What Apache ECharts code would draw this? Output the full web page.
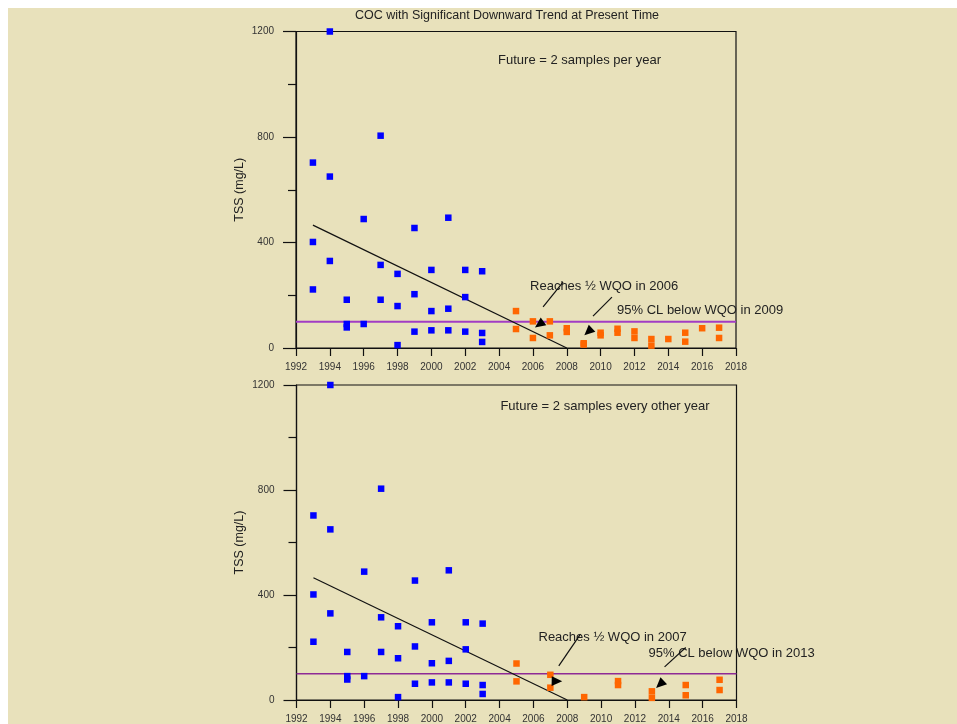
<!DOCTYPE html>
<html>
<head>
<meta charset="utf-8">
<script src="https://cdn.jsdelivr.net/npm/echarts@6/dist/echarts.min.js"></script>
<style>
html,body{margin:0;padding:0;background:#ffffff;}
#bg{position:absolute;left:8px;top:8px;right:0;bottom:0;width:949px;height:716px;background:#e8e1bb;}
#c{position:absolute;left:0;top:0;width:957px;height:724px;}
</style>
</head>
<body>
<div id="bg"></div>
<div id="c"></div>
<script>
// ---- data ----
const histYears = [1993,1993,1993,1994,1994,1994,1995,1995,1995,1996,1996,1997,1997,1997,1998,1998,1998,1999,1999,1999,2000,2000,2000,2001,2001,2001,2002,2002,2002,2003,2003,2003];
const histTSS   = [703,402,222,1200,650,330,183,91,78,489,91,805,315,183,281,159,11,455,204,62,296,140,67,494,149,67,296,193,62,291,57,23];

const futYearsA = [2005,2005,2006,2006,2007,2007,2008,2008,2009,2009,2010,2010,2011,2011,2012,2012,2013,2013,2014,2015,2015,2016,2017,2017];
const futTSSA   = [140,72,101,38,101,48,75,61,18,13,58,48,73,58,63,38,34,9,34,58,24,75,77,38];

const futYearsB = [2005,2005,2007,2007,2009,2011,2011,2013,2013,2015,2015,2017,2017];
const futTSSB   = [139,71,96,47,11,72,57,33,8,57,18,77,38];

const trendYears = [1993, 2008];
const trendTSS   = [466, 0];
const wqoYears = [1992, 2018];
const wqoTSS   = [100, 100];

const xTicks = {min:1992, max:2018, step:2};
const yTicks = {min:0, max:1200, step:400};

const titleText = 'COC with Significant Downward Trend at Present Time';
const yName = 'TSS (mg/L)';
const futureNotes = ['Future = 2 samples per year', 'Future = 2 samples every other year'];
const reachNotes = ['Reaches ½ WQO in 2006', 'Reaches ½ WQO in 2007'];
const clNotes = ['95% CL below WQO in 2009', '95% CL below WQO in 2013'];

// annotation anchors in data units [year, TSS]
const futurePos = [[2003.94, 1089], [2004.05, 1120]];
const reachPos = [[2005.83, 235], [2006.3, 239]];
const clPos = [[2010.97, 144], [2012.8, 178]];
const leaders = [
  [[[2007.78, 250],[2006.6, 156]], [[2010.67, 193],[2009.55, 121]]],
  [[[2008.78, 251],[2007.5, 130]], [[2015.0, 200],[2013.75, 126]]]
];
// arrow tips [year, TSS, dx, dy] (direction in screen space)
const arrows = [
  [[2006.12, 78, -8.7, 6.2], [2009.04, 48, -8, 7.5]],
  [[2007.7, 71, 1, 0.02], [2013.25, 46, -8, 7.5]]
];

function zip(a,b){ return a.map((v,i)=>[v,b[i]]); }

const FONT = 'Liberation Sans, Arial, sans-serif';
const AX = '#111';

function xAxis(gi){
  return {
    type:'value', gridIndex:gi, min:xTicks.min, max:xTicks.max, interval:xTicks.step,
    axisLine:{show:true, onZero:false, lineStyle:{color:AX, width:1.2}},
    axisTick:{show:true, length:8, lineStyle:{color:AX, width:1.2}},
    axisLabel:{fontSize:10, color:'#333', margin:14, fontFamily:FONT, formatter:v=>String(v), showMinLabel:true, showMaxLabel:true},
    splitLine:{show:false}
  };
}
function yAxis(gi){
  return {
    type:'value', gridIndex:gi, min:yTicks.min, max:yTicks.max, interval:yTicks.step,
    name:yName, nameLocation:'middle', nameGap:50,
    nameTextStyle:{fontSize:12.5, color:'#222', fontFamily:FONT},
    axisLine:{show:true, onZero:false, lineStyle:{color:AX, width:1.2}},
    axisTick:{show:true, length:13, lineStyle:{color:AX, width:1.2}},
    minorTick:{show:true, splitNumber:2, length:8, lineStyle:{color:AX, width:1.2}},
    axisLabel:{fontSize:10, color:'#333', margin:22, fontFamily:FONT, formatter:v=>String(v)},
    splitLine:{show:false}, minorSplitLine:{show:false}
  };
}

const series = [];
[0,1].forEach(gi=>{
  series.push({type:'line', xAxisIndex:gi, yAxisIndex:gi, data:zip(wqoYears,wqoTSS), symbol:'none',
    lineStyle:{color: gi===0?'#a23cc4':'#8e2a96', width: gi===0?2:1.5}, silent:true, z:2});
  series.push({type:'line', xAxisIndex:gi, yAxisIndex:gi, data:zip(trendYears,trendTSS), symbol:'none',
    lineStyle:{color:'#111', width:1.2}, silent:true, z:3});
  series.push({type:'scatter', xAxisIndex:gi, yAxisIndex:gi, data:zip(histYears,histTSS), symbol:'rect', symbolSize:6.5,
    itemStyle:{color:'#0000ff', opacity:1}, z:4});
  series.push({type:'scatter', xAxisIndex:gi, yAxisIndex:gi,
    data: gi===0 ? zip(futYearsA,futTSSA) : zip(futYearsB,futTSSB), symbol:'rect', symbolSize:6.5,
    itemStyle:{color:'#ff6600', opacity:1}, z:4});
});

const chart = echarts.init(document.getElementById('c'), null, {renderer:'canvas'});
chart.setOption({
  animation:false,
  backgroundColor:'transparent',
  grid:[
    {left:296, top:31.5, width:440, height:316.5, show:true, borderColor:AX, borderWidth:1.2, backgroundColor:'transparent'},
    {left:296.5, top:385, width:440, height:316, show:true, borderColor:AX, borderWidth:1.2, backgroundColor:'transparent'}
  ],
  xAxis:[xAxis(0), xAxis(1)],
  yAxis:[yAxis(0), yAxis(1)],
  series: series
});

const g = [];
g.push({type:'text', x:507, y:16, style:{text:titleText, font:'12.5px '+FONT, fill:'#222', textAlign:'center', textVerticalAlign:'middle'}, z:10});
[0,1].forEach(gi=>{
  const P = p=>chart.convertToPixel({gridIndex:gi}, p);
  const txt = (pos, s)=>{ const p=P(pos); g.push({type:'text', x:p[0], y:p[1], style:{text:s, font:'13px '+FONT, fill:'#222', textAlign:'left', textVerticalAlign:'middle'}, z:10}); };
  txt(futurePos[gi], futureNotes[gi]);
  txt(reachPos[gi], reachNotes[gi]);
  txt(clPos[gi], clNotes[gi]);
  leaders[gi].forEach(l=>{
    const a=P(l[0]), b=P(l[1]);
    g.push({type:'line', shape:{x1:a[0],y1:a[1],x2:b[0],y2:b[1]}, style:{stroke:'#111', lineWidth:1.2}, z:10});
  });
  arrows[gi].forEach(ar=>{
    const t=P([ar[0],ar[1]]);
    const len=Math.hypot(ar[2],ar[3]); const ux=ar[2]/len, uy=ar[3]/len;
    const L=10.5, W=4.8;
    const bx=t[0]-ux*L, by=t[1]-uy*L;
    const px=-uy, py=ux;
    g.push({type:'polygon', shape:{points:[[t[0],t[1]],[bx+px*W,by+py*W],[bx-px*W,by-py*W]]}, style:{fill:'#000'}, z:10});
  });
});
chart.setOption({graphic:g});
</script>
</body>
</html>
